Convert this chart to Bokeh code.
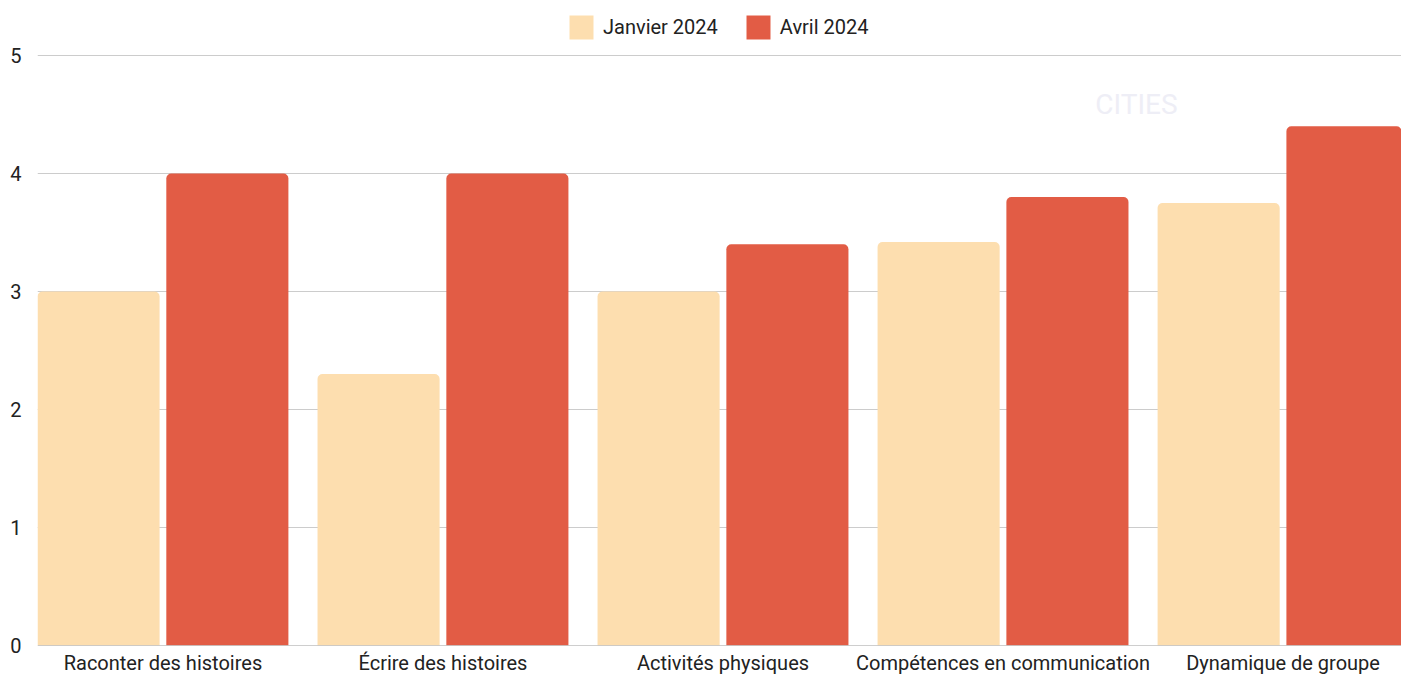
from bokeh.plotting import figure
from bokeh.models import ColumnDataSource, Range1d, FixedTicker, Legend, LegendItem, Label, Span
from bokeh.embed import file_html
from bokeh.resources import INLINE

categories = ["Raconter des histoires", "Écrire des histoires", "Activités physiques",
              "Compétences en communication", "Dynamique de groupe"]
series_names = ["Janvier 2024", "Avril 2024"]
janvier = [3.0, 2.3, 3.0, 3.42, 3.75]
avril = [4.0, 4.0, 3.4, 3.8, 4.4]
y_ticks = [0, 1, 2, 3, 4, 5]
colors = ["#FDDEAF", "#E25C45"]

FONT = "Roboto"
idx = list(range(len(categories)))
offset = 0.23
bw = 0.436

p = figure(width=1401, height=677, output_backend="svg", toolbar_location=None,
           x_range=Range1d(-0.448, 4.423), y_range=Range1d(0, 5.466),
           min_border_left=37, min_border_right=0, min_border_top=0, min_border_bottom=32)
p.outline_line_color = None
p.background_fill_color = "white"

src_j = ColumnDataSource(dict(x=[i - offset for i in idx], top=janvier))
src_a = ColumnDataSource(dict(x=[i + offset for i in idx], top=avril))

p.ygrid.grid_line_color = "#cccccc"
p.ygrid.grid_line_width = 1
p.xgrid.grid_line_color = None
p.yaxis.ticker = FixedTicker(ticks=y_ticks)

base = Span(location=0, dimension="width", line_color="#9e9e9e", line_width=1)
p.add_layout(base)

rj = p.vbar(x="x", top="top", bottom=0, width=bw, source=src_j, fill_color=colors[0],
            line_color=None, border_radius=(5, 5, 0, 0))
ra = p.vbar(x="x", top="top", bottom=0, width=bw, source=src_a, fill_color=colors[1],
            line_color=None, border_radius=(5, 5, 0, 0))

for ax in (p.xaxis[0], p.yaxis[0]):
    ax.axis_line_color = None
    ax.major_tick_line_color = None
    ax.minor_tick_line_color = None
    ax.major_tick_out = 0
    ax.major_tick_in = 0
    ax.minor_tick_out = 0
    ax.minor_tick_in = 0
    ax.major_label_text_font = FONT
    ax.major_label_text_font_size = "20px"
    ax.major_label_text_color = "#222222"

p.xaxis.ticker = FixedTicker(ticks=idx)
p.xaxis.major_label_overrides = {i: c for i, c in zip(idx, categories)}
p.xaxis.major_label_standoff = 5
p.yaxis.major_label_standoff = 16

wm = Label(x=1136 - 37, y=645 - 104, x_units="screen", y_units="screen", text="CITIES",
           text_font=FONT, text_font_size="28px", text_color="#eeeef6",
           text_align="center", text_baseline="middle")
p.add_layout(wm)

legend = Legend(items=[LegendItem(label=series_names[0], renderers=[rj]),
                       LegendItem(label=series_names[1], renderers=[ra])],
                location=(529, 603), orientation="horizontal",
                glyph_width=30, glyph_height=30, label_standoff=7, spacing=25,
                padding=12, margin=0, border_line_color=None, background_fill_alpha=0,
                label_text_font=FONT, label_text_font_size="20px", label_text_color="#222222")
p.add_layout(legend)

open("out.html", "w").write(file_html(p, INLINE))
